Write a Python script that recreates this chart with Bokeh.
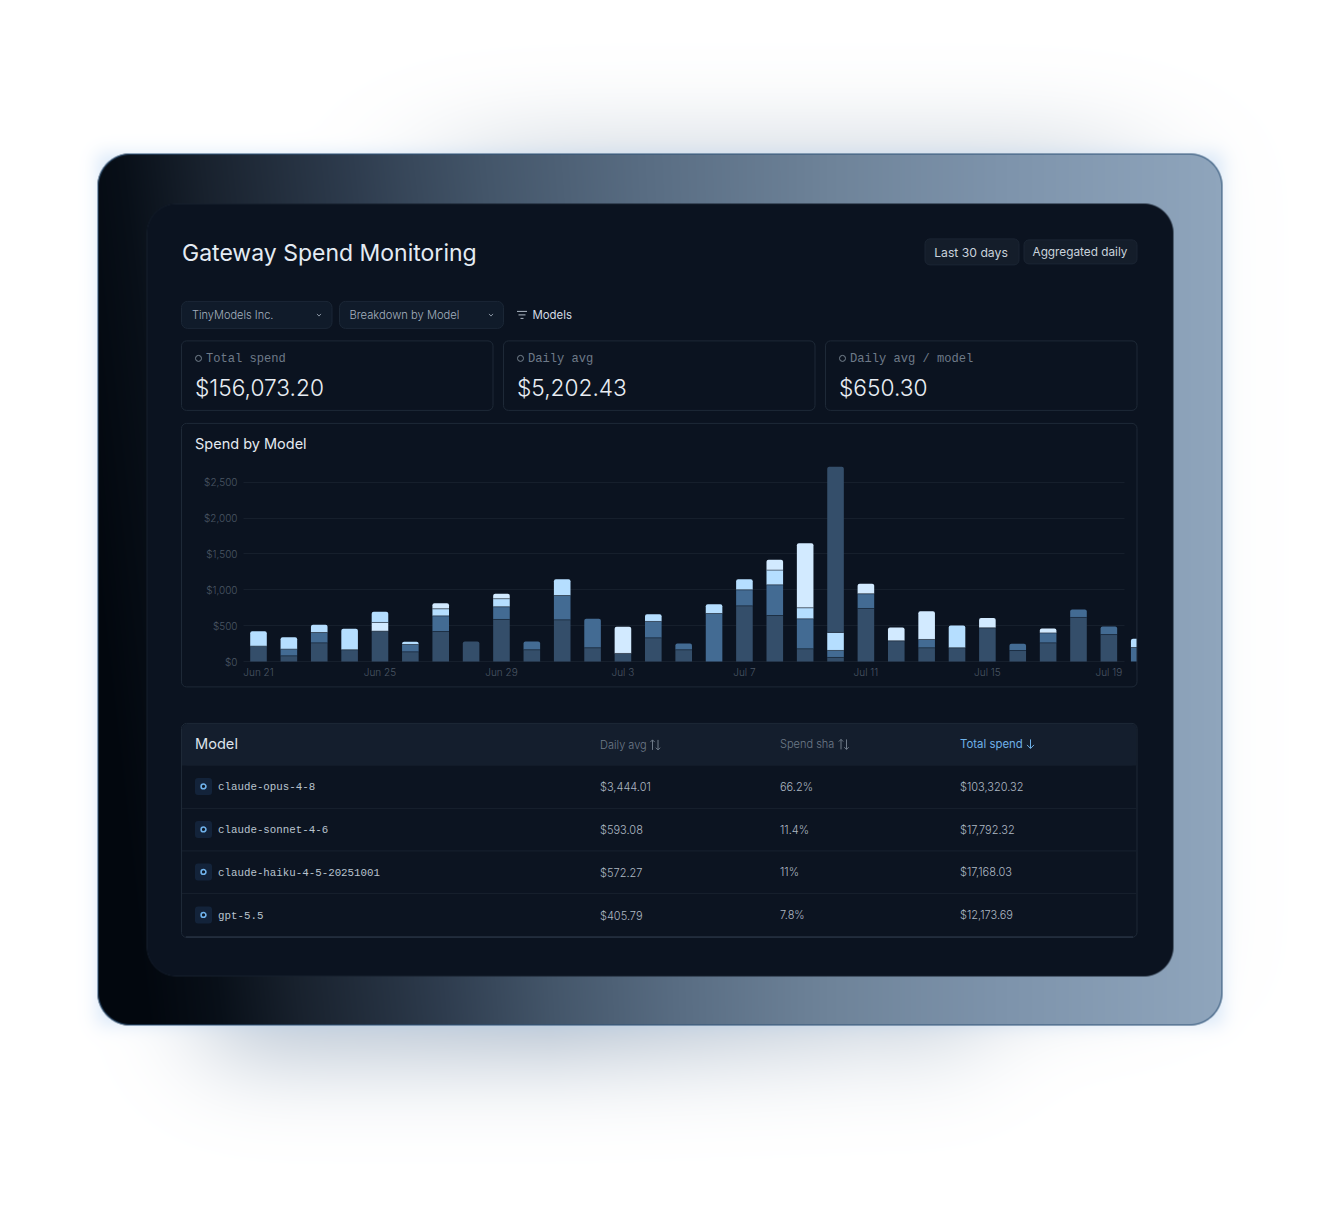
import math
import numpy as np
from bokeh.plotting import figure
from bokeh.models import Range1d, LinearAxis, FixedTicker, NumeralTickFormatter
from bokeh.core.properties import value
from bokeh.embed import file_html
from bokeh.resources import INLINE

# ---------- data ----------
days = list(range(30))
tick_days = [0, 4, 8, 12, 16, 20, 24, 28]
tick_labels = ["Jun 21", "Jun 25", "Jun 29", "Jul 3", "Jul 7", "Jul 11", "Jul 15", "Jul 19"]
y_ticks = [0, 500, 1000, 1500, 2000, 2500]

# stacked layers, bottom to top; shade letters: D dark, M mid, L light, P pale
layer1 = [214, 79, 260, 163, 423, 135, 418, 279, 586, 163, 581, 191, 112, 330, 163, 669, 776, 641, 177, 56, 739, 288, 191, 191, 469, 153, 260, 614, 376, 195]
shade1 = "DDDDDDDDDDDDDDDMDDDDDDDDDDDDDM"
layer2 = [209, 93, 144, 293, 121, 102, 218, 0, 177, 116, 339, 404, 372, 228, 88, 130, 223, 428, 418, 98, 205, 186, 116, 311, 139, 93, 139, 112, 112, 121]
shade2 = "LMMLPMMMMMMMPMMLMMMMMPMLPMMMML"
layer3 = [0, 167, 107, 0, 149, 37, 98, 0, 112, 0, 228, 0, 0, 102, 0, 0, 149, 205, 153, 251, 139, 0, 395, 0, 0, 0, 60, 0, 0, 0]
shade3 = "LLLLLLLLLLLLLLLLLLLLPLPLLLPLLL"
layer4 = [0, 0, 0, 0, 0, 0, 79, 0, 70, 0, 0, 0, 0, 0, 0, 0, 0, 144, 902, 2310, 0, 0, 0, 0, 0, 0, 0, 0, 0, 0]
shade4 = "PPPPPPPPPPPPPPPPPPPDPPPPPPPPPP"

kpi_labels = ["Total spend", "Daily avg", "Daily avg / model"]
kpi_values = ["$156,073.20", "$5,202.43", "$650.30"]
models = ["claude-opus-4-8", "claude-sonnet-4-6", "claude-haiku-4-5-20251001", "gpt-5.5"]
daily_avg = ["$3,444.01", "$593.08", "$572.27", "$405.79"]
spend_share = ["66.2%", "11.4%", "11%", "7.8%"]
total_spend = ["$103,320.32", "$17,792.32", "$17,168.03", "$12,173.69"]

SHADES = {"D": "#344E6A", "M": "#436B93", "L": "#B5DEFF", "P": "#D2EAFF"}
CARD = "#0B1320"
INTER = value("Inter")
LIGHT = value("Inter Light")
MONO = value("Liberation Mono")

# ---------- page-pixel canvas ----------
W, H = 1304, 1215
p = figure(width=W, height=H, x_range=Range1d(0.5, W + 0.5), y_range=Range1d(H + 0.6, 0.6),
           output_backend="svg", toolbar_location=None, min_border=0)
p.renderers = []
p.left = []; p.below = []; p.center = []
p.outline_line_color = None
p.background_fill_color = "#ffffff"
p.border_fill_color = "#ffffff"
p.extra_y_ranges["img"] = Range1d(0, H)
p.extra_x_ranges["imgx"] = Range1d(0, W)

# ---------- raster backdrop: glow, gradient frame ----------
xs = np.arange(W) + 0.5
ys = np.arange(H) + 0.5
_erf = np.vectorize(math.erf)

def blur_box(x0, y0, x1, y1, sx, sy):
    ax = 0.5 * (_erf((xs - x0) / sx) - _erf((xs - x1) / sx))
    ay = 0.5 * (_erf((ys - y0) / sy) - _erf((ys - y1) / sy))
    return np.outer(ay, ax)

def sdf(x0, y0, x1, y1, r):
    cx, cy = (x0 + x1) / 2, (y0 + y1) / 2
    hx, hy = (x1 - x0) / 2 - r, (y1 - y0) / 2 - r
    qx = np.abs(xs - cx)[None, :] - hx
    qy = np.abs(ys - cy)[:, None] - hy
    return np.hypot(np.maximum(qx, 0), np.maximum(qy, 0)) + np.minimum(np.maximum(qx, qy), 0) - r

def over(rgb, color, a):
    c = np.array([int(color[i:i + 2], 16) for i in (1, 3, 5)], dtype=float)
    return rgb * (1 - a[..., None]) + c * a[..., None]

rgb = np.full((H, W, 3), 255.0)
rgb = over(rgb, "#7E92A8", 0.30 * blur_box(450, 130, 1130, 1000, 100, 55))
rgb = over(rgb, "#6F87A3", 0.47 * blur_box(210, 300, 980, 1060, 70, 60) * np.clip((1250 - xs) / 700, 0.55, 1))
rgb = over(rgb, "#B4D2F2", 0.48 * blur_box(97, 153, 1222, 1024, 12, 12))

stops_x = [97, 170, 250, 400, 520, 660, 830, 1000, 1221]
stops_c = ["#02070E", "#080F18", "#18212D", "#2E3C4E", "#435569", "#586C82", "#6E8399", "#7D93AB", "#8FA5BC"]
XX, YY = np.meshgrid(xs, ys)
tilt = np.clip((800 - XX) / 400, 0, 1) * 0.115 * (588 - YY)
grad = np.stack([np.interp(XX + tilt, stops_x, [int(c[i:i + 2], 16) for c in stops_c]) for i in (1, 3, 5)], axis=2)
d_out = sdf(97, 153, 1222, 1025, 33)
cov = np.clip(0.5 - d_out, 0, 1)[..., None]
rgb = rgb * (1 - cov) + grad * cov
ring = np.clip(1.0 - np.abs(d_out + 0.5), 0, 1)
rgb = over(rgb, "#2F5378", ring)

d_in = sdf(146, 203, 1173, 976, 30)
inner = np.clip(0.5 - d_in, 0, 1)
rgb = over(rgb, CARD, inner)
rgb = over(rgb, "#2A3646", 0.7 * np.clip(0.5 - np.abs(d_in + 0.5), 0, 1))

img = np.zeros((H, W), dtype=np.uint32)
view = img.view(dtype=np.uint8).reshape((H, W, 4))
view[..., :3] = np.clip(rgb + 0.5, 0, 255).astype(np.uint8)
view[..., 3] = 255
p.image_rgba(image=[img[::-1].copy()], x=0, y=0, dw=W, dh=H, x_range_name="imgx", y_range_name="img", level="image")

# ---------- helpers ----------
def box(l, r, t, b, fill=None, line=None, radius=0, lw=1, level="image", line_alpha=1.0):
    p.quad(left=[l], right=[r], top=[t], bottom=[b], fill_color=fill, fill_alpha=1 if fill else 0,
           line_color=line, line_alpha=line_alpha if line else 0, line_width=lw, border_radius=radius, level=level)

def txt(x, y, s, size, color, font=INTER, align="left"):
    extra = 1.0 if font is MONO else 0.0
    p.text(x=[x], y=[y + extra], text=[s], text_font=font, text_font_size=f"{size}px", text_color=color,
           text_align=align, text_baseline="middle")

def chevron(cx, cy):
    p.line(x=[cx - 2, cx, cx + 2], y=[cy - 1, cy + 1.2, cy - 1], line_color="#8793A1", line_width=1)

def arrow(x, y, up, color, half=5, head=2.2):
    tip = -1 if up else 1
    p.multi_line(xs=[[x, x], [x - head, x, x + head]],
                 ys=[[y - half, y + half], [y + tip * (half - head), y + tip * half, y + tip * (half - head)]],
                 line_color=color, line_width=1)

# ---------- header ----------
txt(182, 253, "Gateway Spend Monitoring", 23, "#E4EBF3")
box(925, 1019, 239, 265, "#141D2A", "#1B2533", 5)
txt(971, 252.5, "Last 30 days", 12.2, "#C9D2DC", align="center")
box(1024, 1137, 240, 264, "#141D2A", "#1B2533", 5)
txt(1080, 252, "Aggregated daily", 11.8, "#C9D2DC", align="center")

box(181.5, 332, 301.5, 328.5, "#101B2A", "#1B2736", 6)
txt(192, 315, "TinyModels Inc.", 11, "#A5B1BF", font=LIGHT)
chevron(319, 315)
box(339.5, 503.5, 301.5, 328.5, "#101B2A", "#1B2736", 6)
txt(349.5, 315, "Breakdown by Model", 11.2, "#A5B1BF", font=LIGHT)
chevron(491, 315)
p.multi_line(xs=[[517, 527], [518.5, 525.5], [520.5, 523.5]], ys=[[311.5, 311.5], [315, 315], [318.5, 318.5]],
             line_color="#AEB8C4", line_width=1)
txt(532.5, 315, "Models", 11.4, "#D3DBE4")

# ---------- KPI cards ----------
for left, label, val in zip([181.5, 503.5, 825.5], kpi_labels, kpi_values):
    box(left, left + 311.5, 341, 410.5, None, "#1E2937", 5, level="glyph")
    p.circle(x=[left + 17], y=[358.5], radius=3, fill_alpha=0, line_color="#76838F", line_width=1)
    txt(left + 24.5, 358, label, 12.1, "#6E7A88", font=MONO)
    txt(left + 13.5, 387.5, val, 22.7, "#E8EDF3", font=LIGHT)

# ---------- chart ----------
box(181.5, 1137, 423.5, 687, None, "#1E2937", 5, level="glyph")
txt(195, 443.2, "Spend by Model", 14.5, "#E4EAF1")

PX_PER_DAY = 30.37
PX_PER_USD = 179.3 / 2500
DAY0_PX, USD0_PX = 258.0, 661.0
p.extra_x_ranges["days"] = Range1d((0 - DAY0_PX) / PX_PER_DAY, (W - DAY0_PX) / PX_PER_DAY)
p.extra_y_ranges["usd"] = Range1d((USD0_PX - H) / PX_PER_USD, USD0_PX / PX_PER_USD)
BAR_W = 16.6 / PX_PER_DAY

# the y axis' inward ticks are the chart's gridlines
yaxis = LinearAxis(x_range_name="days", y_range_name="usd", ticker=FixedTicker(ticks=y_ticks),
                   fixed_location=(243 - DAY0_PX) / PX_PER_DAY, level="underlay",
                   formatter=NumeralTickFormatter(format="$0,0"),
                   axis_line_color=None, major_tick_line_color="#161F2C", minor_tick_line_color=None,
                   major_tick_in=881, major_tick_out=0,
                   major_label_text_color="#4A5664", major_label_text_font="Inter Light",
                   major_label_text_font_size="10px", major_label_standoff=6)
p.add_layout(yaxis, "left")
xaxis = LinearAxis(x_range_name="days", y_range_name="usd", ticker=FixedTicker(ticks=tick_days),
                   fixed_location=0,
                   major_label_overrides=dict(zip(tick_days, tick_labels)),
                   axis_line_color=None, major_tick_line_color=None, minor_tick_line_color=None,
                   major_tick_in=0, major_tick_out=0,
                   major_label_text_color="#4A5664", major_label_text_font="Inter Light",
                   major_label_text_font_size="10px", major_label_standoff=4)
p.add_layout(xaxis, "below")

layers = [layer1, layer2, layer3, layer4]
shades = [shade1, shade2, shade3, shade4]
seg_x, seg_b, seg_t, seg_c, top_flags = [], [], [], [], []
sep_x, sep_y = [], []
for d in days:
    base = 0
    parts = [(layers[k][d], shades[k][d]) for k in range(4) if layers[k][d] > 0]
    for i, (v, s) in enumerate(parts):
        seg_x.append(d); seg_b.append(base); seg_t.append(base + v); seg_c.append(SHADES[s])
        top_flags.append(i == len(parts) - 1)
        if i:
            sep_x.append(d); sep_y.append(base)
        base += v
seg_x, seg_b, seg_t, top_flags = map(np.array, (seg_x, seg_b, seg_t, top_flags))
seg_c = np.array(seg_c)
p.vbar(x=seg_x[~top_flags], bottom=seg_b[~top_flags], top=seg_t[~top_flags], width=BAR_W, fill_color=seg_c[~top_flags].tolist(),
       line_color=None, x_range_name="days", y_range_name="usd")
p.vbar(x=seg_x[top_flags], bottom=seg_b[top_flags], top=seg_t[top_flags], width=BAR_W, fill_color=seg_c[top_flags].tolist(),
       line_color=None, border_radius=(2, 2, 0, 0), x_range_name="days", y_range_name="usd")
p.segment(x0=np.array(sep_x) - BAR_W / 2, x1=np.array(sep_x) + BAR_W / 2, y0=sep_y, y1=sep_y,
          line_color=CARD, line_alpha=0.5, line_width=1, x_range_name="days", y_range_name="usd")
# the last bar is cut by the card's right edge
box(1137, 1150, 600, 670, CARD, None, level="glyph")
box(1136.5, 1137.5, 600, 670, "#1E2937", None, level="glyph")

# ---------- table ----------
box(181.5, 1137, 723.5, 937.5, "#0C1421", "#1E2937", 5)
box(182, 1136.5, 724, 765.5, "#141E2D", None, 5)
box(182, 1136.5, 755, 765.5, "#141E2D", None, 0)
p.multi_line(xs=[[182, 1136.5]] * 3, ys=[[808.5, 808.5], [851, 851], [893.5, 893.5]], line_color="#18212E", line_width=1)
p.line(x=[186, 1133], y=[937, 937], line_color="#263140", line_width=1.5)
txt(195, 744.5, "Model", 14.6, "#DDE4EC")
txt(600, 745, "Daily avg", 11, "#6E7A88", font=LIGHT)
arrow(652.5, 745, True, "#6E7A88")
arrow(658, 745, False, "#6E7A88")
txt(780, 744.5, "Spend sha", 11, "#6E7A88", font=LIGHT)
arrow(841, 744.5, True, "#6E7A88")
arrow(846.5, 744.5, False, "#6E7A88")
txt(960, 744.5, "Total spend", 11.4, "#6FB1E8")
arrow(1030.5, 744, False, "#6FB1E8", half=4.5, head=3.5)
for cy, m, a, s, t in zip([786.5, 829.5, 872, 915], models, daily_avg, spend_share, total_spend):
    box(195, 212, cy - 8.5, cy + 8.5, "#13233A", None, 3)
    p.circle(x=[203.5], y=[cy], radius=2.4, fill_color="#0C1522", line_color="#6FB1EA", line_width=1.6)
    txt(218, cy - 0.3, m, 10.8, "#B9C3CE", font=MONO)
    txt(600, cy + 0.9, a, 11, "#AEB8C3", font=LIGHT)
    txt(780, cy + 0.5, s, 11, "#AEB8C3", font=LIGHT)
    txt(960, cy + 0.5, t, 11, "#AEB8C3", font=LIGHT)

open("out.html", "w").write(file_html(p, INLINE))
